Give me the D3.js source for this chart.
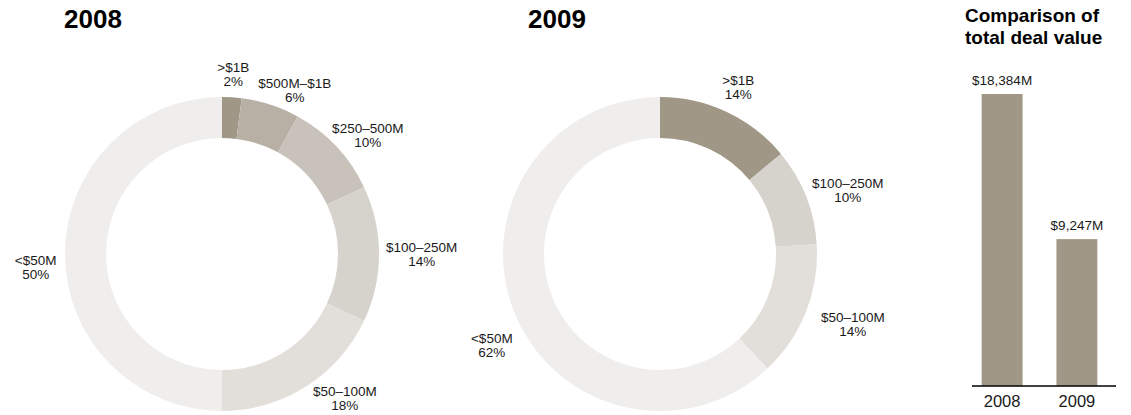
<!DOCTYPE html>
<html>
<head>
<meta charset="utf-8">
<script src="https://cdn.jsdelivr.net/npm/d3@7"></script>
<style>
  html, body { margin: 0; padding: 0; background: #fff; }
  svg { display: block; font-family: "Liberation Sans", Arial, Helvetica, sans-serif; }
</style>
</head>
<body>
<svg id="chart" width="1131" height="415"></svg>
<script>
// ---- Data ----
const categories2008 = [">$1B", "$500M–$1B", "$250–500M", "$100–250M", "$50–100M", "<$50M"];
const values2008 = [2, 6, 10, 14, 18, 50];
const categories2009 = [">$1B", "$100–250M", "$50–100M", "<$50M"];
const values2009 = [14, 10, 14, 62];
const barYears = ["2008", "2009"];
const barValues = [18384, 9247];
const barLabels = ["$18,384M", "$9,247M"];
const donutTitles = ["2008", "2009"];
const barTitle = ["Comparison of", "total deal value"];

// ---- Styling / layout (not data) ----
const colorByCategory = {
  ">$1B": "#a19787",
  "$500M–$1B": "#b8b0a5",
  "$250–500M": "#c8c2ba",
  "$100–250M": "#d6d2cc",
  "$50–100M": "#e2dfda",
  "<$50M": "#efeeec"
};
// label nudges: [degrees, px radial]
const labelNudge2008 = [[0, 0], [6, -6], [4, -6], [0, -1], [-8, 1], [-4, 1]];
const labelNudge2009 = [[0, 4], [3, -1], [-1.5, 10], [-7, 7]];

const svg = d3.select("#chart");
const outerR = 157, innerR = 116, labelGap = 8;
const labelFont = 13.5, labelLine = 14;

function donut(cx, cy, cats, vals, nudges, title, titleX) {
  const g = svg.append("g");
  const data = cats.map((c, i) => ({ c, v: vals[i], n: nudges[i] }));
  const pie = d3.pie().sort(null).value(d => d.v);
  const arc = d3.arc().innerRadius(innerR).outerRadius(outerR);
  const arcs = pie(data);
  g.append("g").attr("transform", `translate(${cx},${cy})`)
    .selectAll("path").data(arcs).join("path")
    .attr("d", arc)
    .attr("fill", d => colorByCategory[d.data.c]);

  const labels = g.append("g").selectAll("text").data(arcs).join("text")
    .attr("text-anchor", "middle")
    .attr("font-size", labelFont)
    .attr("fill", "#1a1a1a");
  labels.append("tspan").attr("x", 0).attr("y", 0).text(d => d.data.c);
  labels.append("tspan").attr("x", 0).attr("y", labelLine).text(d => d.data.v + "%");
  labels.each(function(d) {
    const bb = this.getBBox();
    const a = (d.startAngle + d.endAngle) / 2 + d.data.n[0] * Math.PI / 180;
    const s = Math.sin(a), co = Math.cos(a);
    const ext = Math.sqrt(Math.pow(bb.width / 2 * s, 2) + Math.pow(bb.height / 2 * co, 2));
    const R = outerR + labelGap + ext + d.data.n[1];
    const x = cx + R * s, y = cy - R * co;
    const tx = x - (bb.x + bb.width / 2), ty = y - (bb.y + bb.height / 2);
    d3.select(this).attr("transform", `translate(${tx},${ty})`);
  });

  svg.append("text").attr("x", titleX).attr("y", 28)
    .attr("font-size", 26).attr("font-weight", "bold").attr("fill", "#000")
    .text(title);
}

donut(222, 254, categories2008, values2008, labelNudge2008, donutTitles[0], 64);
donut(660, 254, categories2009, values2009, labelNudge2009, donutTitles[1], 528);

// ---- Bar chart ----
const x = d3.scaleBand().domain(barYears).range([972, 1107]).paddingInner(0.453).paddingOuter(0.129);
const y = d3.scaleLinear().domain([0, barValues[0]]).range([386, 94]);
const bg = svg.append("g");
bg.selectAll("rect").data(barYears).join("rect")
  .attr("x", d => x(d))
  .attr("y", (d, i) => y(barValues[i]))
  .attr("width", x.bandwidth())
  .attr("height", (d, i) => y(0) - y(barValues[i]))
  .attr("fill", colorByCategory[">$1B"]);
bg.selectAll("text.val").data(barYears).join("text")
  .attr("class", "val")
  .attr("x", d => x(d) + x.bandwidth() / 2)
  .attr("y", (d, i) => y(barValues[i]) - 9)
  .attr("text-anchor", "middle")
  .attr("font-size", 13.5)
  .attr("fill", "#1a1a1a")
  .text((d, i) => barLabels[i]);

const axis = svg.append("g").attr("transform", `translate(0,${y(0)})`)
  .call(d3.axisBottom(x).tickSize(0).tickPadding(0));
axis.select(".domain").remove();
axis.selectAll("text").attr("dy", null).attr("y", 21)
  .attr("font-size", 16.5).attr("fill", "#1a1a1a")
  .attr("font-family", "Liberation Sans, Arial, sans-serif");
svg.append("line").attr("x1", 972).attr("x2", 1116).attr("y1", y(0)).attr("y2", y(0))
  .attr("stroke", "#000").attr("stroke-width", 1.6);

svg.append("text").attr("x", 965).attr("font-size", 19).attr("font-weight", "bold").attr("fill", "#000")
  .selectAll("tspan").data(barTitle).join("tspan")
  .attr("x", 965).attr("y", (d, i) => 22 + i * 22).text(d => d);
</script>
</body>
</html>
